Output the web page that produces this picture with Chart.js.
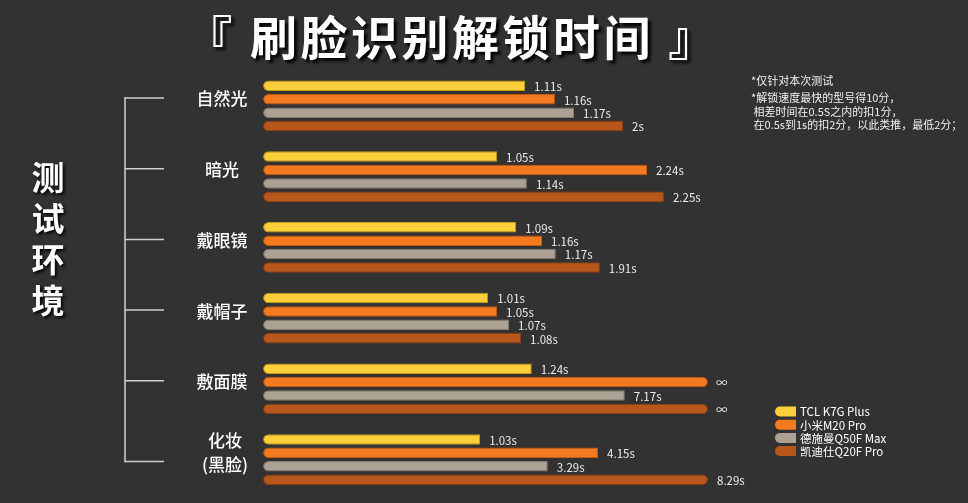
<!DOCTYPE html>
<html>
<head>
<meta charset="utf-8">
<script src="https://cdn.jsdelivr.net/npm/chart.js@4"></script>
<style>
  html, body { margin: 0; padding: 0; background: #323232; }
  #wrap { width: 968px; height: 503px; position: relative; }
</style>
</head>
<body>
<div id="wrap"><canvas id="c"></canvas></div>
<script>
// ---- data ----
const categories = ['自然光', '暗光', '戴眼镜', '戴帽子', '敷面膜', ['化妆', '(黑脸)']];
const seriesNames = ['TCL K7G Plus', '小米M20 Pro', '德施曼Q50F Max', '凯迪仕Q20F Pro'];

// unlock times (s) shown as labels; Infinity = never unlocked (∞)
const tclTime = [1.11, 1.05, 1.09, 1.01, 1.24, 1.03];
const miTime  = [1.16, 2.24, 1.16, 1.05, Infinity, 4.15];
const dsmTime = [1.17, 1.14, 1.17, 1.07, 7.17, 3.29];
const kdsTime = [2, 2.25, 1.91, 1.08, Infinity, 8.29];

// drawn bar lengths (relative units, longest = 100)
const tclBar = [58.9, 52.6, 56.9, 50.6, 60.4, 48.8];
const miBar  = [65.6, 86.3, 62.7, 52.6, 100, 75.3];
const dsmBar = [69.9, 59.3, 65.8, 55.3, 81.3, 64.0];
const kdsBar = [80.9, 90.1, 75.7, 58.0, 100, 100];

const titleText = '『 刷脸识别解锁时间 』';
const sideTitle = ['测', '试', '环', '境'];
const notes = ['*仅针对本次测试', '*解锁速度最快的型号得10分，', ' 相差时间在0.5S之内的扣1分，', ' 在0.5s到1s的扣2分，以此类推，最低2分；'];

const colors = ['#FBCF3A', '#F47A20', '#ABA294', '#B8571B'];
const borders = ['#C99A1A', '#C65A10', '#857C70', '#8E3F10'];
const FONT = '"Noto Sans CJK SC", "Noto Sans", sans-serif';
const XMAX = 100;

const times = [tclTime, miTime, dsmTime, kdsTime];
const bars = [tclBar, miBar, dsmBar, kdsBar];

function fmt(v) { return v === Infinity ? '∞' : String(v) + 's'; }

const datasets = seriesNames.map((name, i) => ({
  label: name,
  data: bars[i],
  times: times[i],
  backgroundColor: colors[i],
  borderColor: borders[i],
  borderWidth: 1,
  borderSkipped: false,
  borderRadius: (ctx) => {
    const v = ctx.raw;
    const r = (v >= XMAX) ? 6 : 0;
    return { topLeft: 6, bottomLeft: 6, topRight: r, bottomRight: r };
  },
  categoryPercentage: 0.76,
  barPercentage: 0.78
}));

const decor = {
  id: 'decor',
  beforeDraw(chart) {
    const ctx = chart.ctx;
    ctx.save();
    ctx.fillStyle = '#323232';
    ctx.fillRect(0, 0, chart.width, chart.height);
    ctx.restore();
  },
  afterDraw(chart) {
    const ctx = chart.ctx;
    const ys = chart.scales.y;
    ctx.save();

    // title with shadow
    ctx.save();
    ctx.font = 'bold 47px ' + FONT;
    ctx.fillStyle = '#ffffff';
    ctx.textAlign = 'center';
    ctx.textBaseline = 'middle';
    ctx.letterSpacing = '3.5px';
    ctx.shadowColor = 'rgba(0,0,0,0.95)';
    ctx.shadowOffsetX = 3;
    ctx.shadowOffsetY = 3;
    ctx.shadowBlur = 3;
    ctx.fillText(titleText, 452, 37);
    ctx.restore();

    // side title
    ctx.save();
    ctx.font = 'bold 33px ' + FONT;
    ctx.fillStyle = '#ffffff';
    ctx.textAlign = 'center';
    ctx.textBaseline = 'middle';
    ctx.shadowColor = 'rgba(0,0,0,0.9)';
    ctx.shadowOffsetX = 2;
    ctx.shadowOffsetY = 2;
    ctx.shadowBlur = 3;
    sideTitle.forEach((ch, i) => ctx.fillText(ch, 48, 177 + i * 41.3));
    ctx.restore();

    // bracket
    const tickYs = categories.map((c, i) => ys.getPixelForValue(i) - 8 + (i === 5 ? 10 : 0));
    ctx.strokeStyle = '#d0d0d0';
    ctx.lineWidth = 1.5;
    ctx.beginPath();
    ctx.moveTo(125, tickYs[0] - 1);
    ctx.lineTo(125, tickYs[5] + 1);
    tickYs.forEach(y => { ctx.moveTo(125, y); ctx.lineTo(164, y); });
    ctx.stroke();

    // category labels
    ctx.fillStyle = '#ffffff';
    ctx.font = '500 17px ' + FONT;
    ctx.textAlign = 'center';
    ctx.textBaseline = 'middle';
    categories.forEach((c, i) => {
      const y = ys.getPixelForValue(i) - 7;
      if (Array.isArray(c)) {
        ctx.fillText(c[0], 225, y - 12);
        ctx.fillText(c[1], 225, y + 12);
      } else {
        ctx.fillText(c, 222, y);
      }
    });

    // value labels
    ctx.font = '11.5px ' + FONT;
    ctx.fillStyle = '#ececec';
    ctx.textAlign = 'left';
    chart.data.datasets.forEach((ds, di) => {
      const meta = chart.getDatasetMeta(di);
      meta.data.forEach((el, j) => {
        const t = ds.times[j];
        const gap = t === Infinity ? 8 : 9;
        ctx.fillText(fmt(t), el.x + gap, el.y + 1);
      });
    });

    // notes
    ctx.font = '11px ' + FONT;
    ctx.fillStyle = '#f0f0f0';
    ctx.textBaseline = 'middle';
    const noteY = [81, 98, 112, 125];
    notes.forEach((n, i) => ctx.fillText(n, 751, noteY[i]));

    // legend
    chart.data.datasets.forEach((ds, i) => {
      const y = 411.5 + i * 13.2;
      ctx.fillStyle = ds.backgroundColor;
      ctx.beginPath();
      ctx.roundRect(775, y - 5, 21, 10, [5, 0, 0, 5]);
      ctx.fill();
      ctx.fillStyle = '#ffffff';
      ctx.font = '11.5px ' + FONT;
      ctx.fillText(ds.label, 800, y + 0.5);
    });

    ctx.restore();
  }
};

new Chart(document.getElementById('c'), {
  type: 'bar',
  data: { labels: categories, datasets },
  options: {
    indexAxis: 'y',
    responsive: true,
    maintainAspectRatio: false,
    animation: false,
    layout: { padding: { left: 263, right: 260, top: 70.6, bottom: 8.1 } },
    scales: {
      x: { display: false, min: 0, max: XMAX },
      y: { display: false }
    },
    plugins: {
      legend: { display: false },
      title: { display: false },
      tooltip: { enabled: false }
    }
  },
  plugins: [decor]
});
</script>
</body>
</html>
